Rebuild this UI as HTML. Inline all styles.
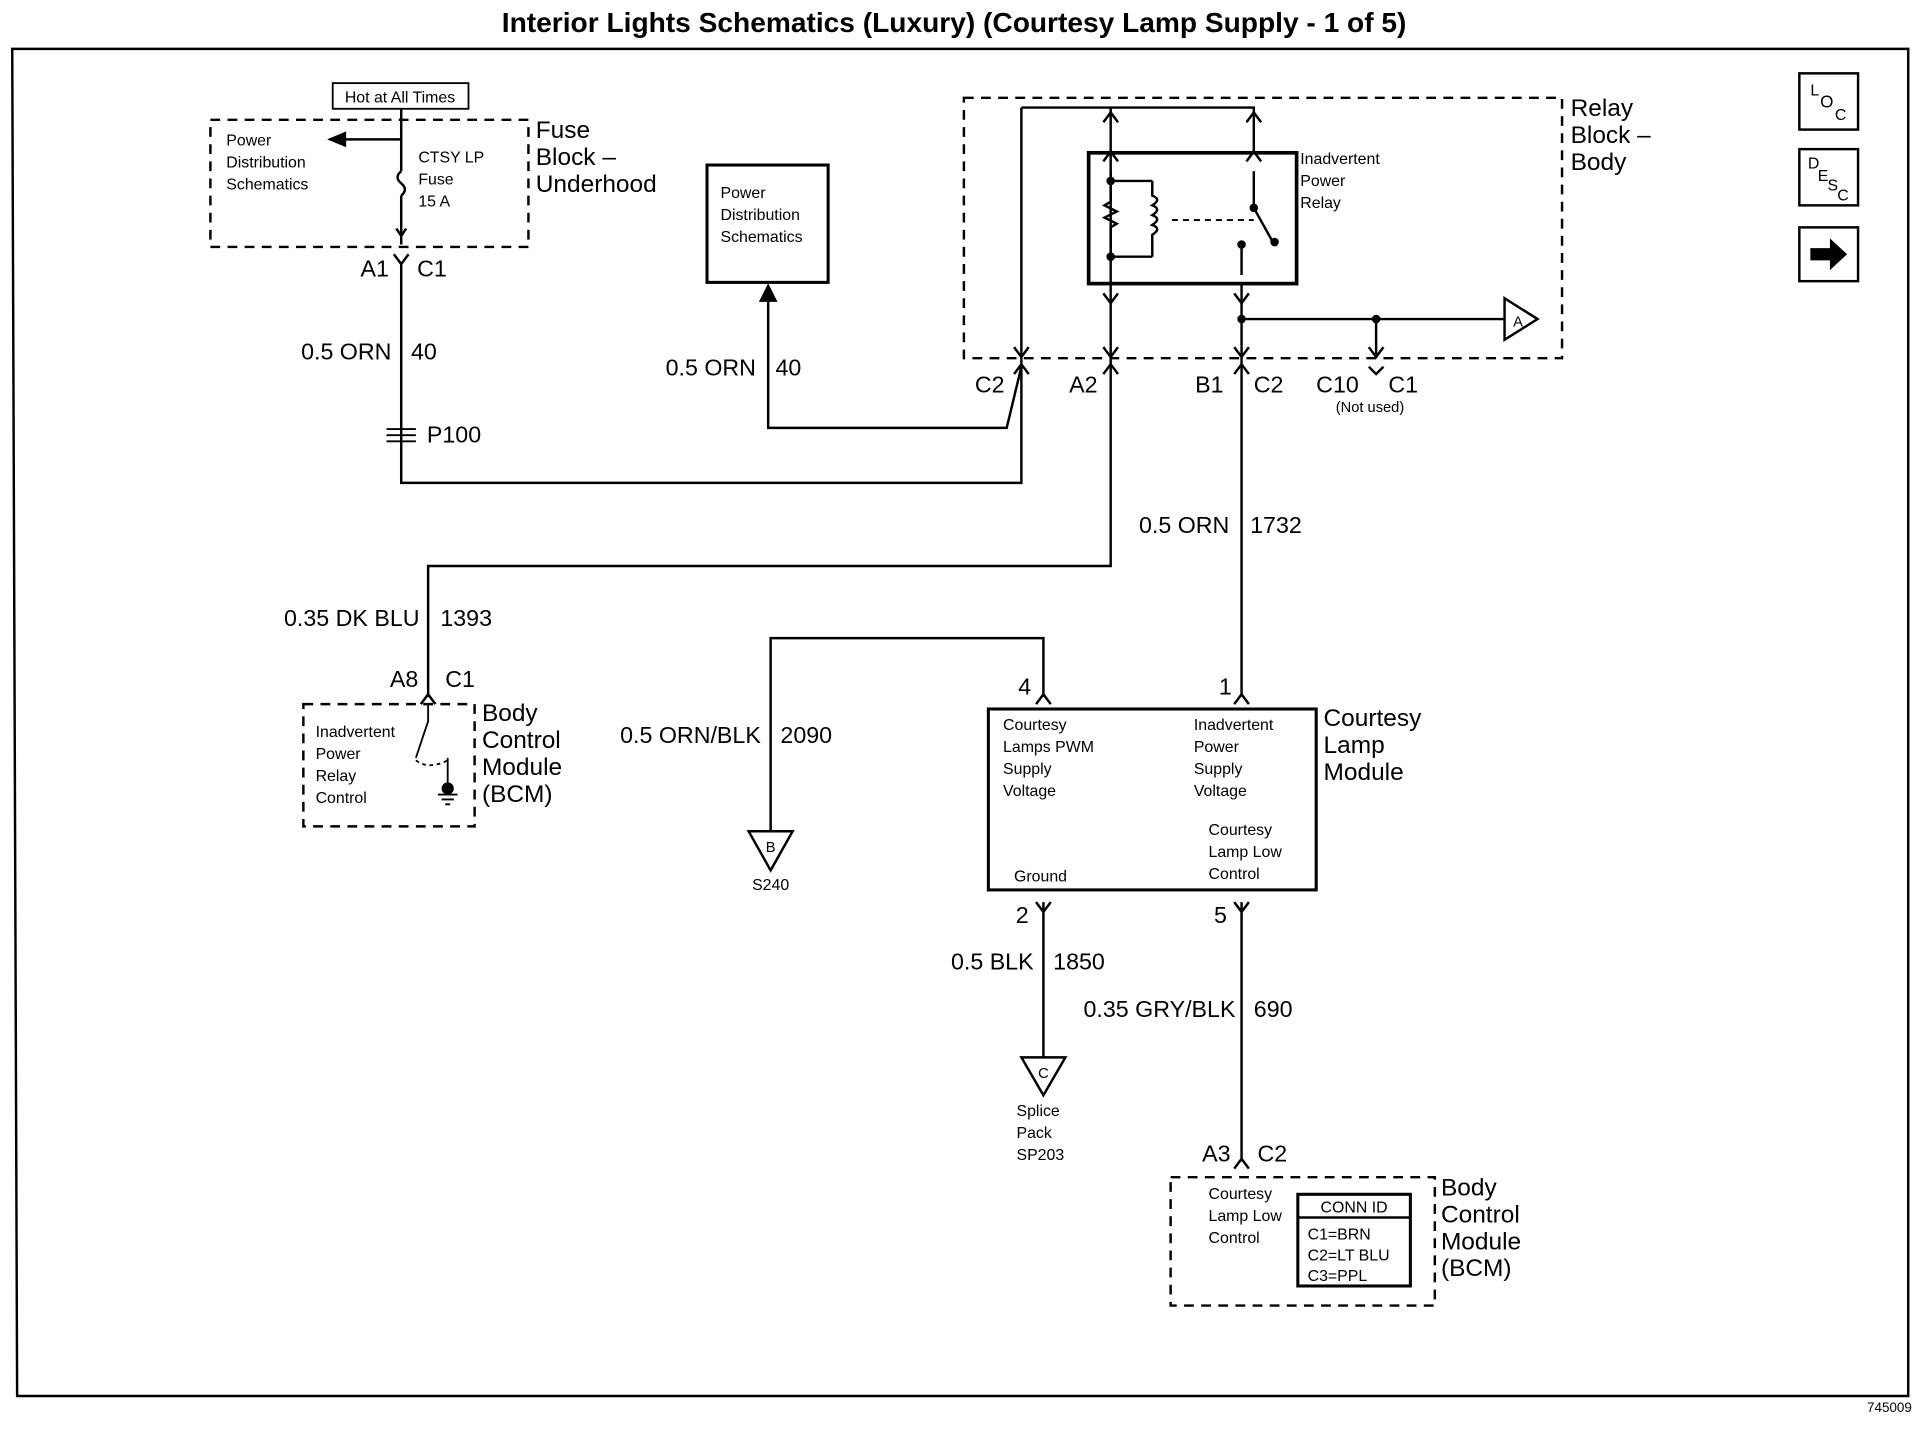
<!DOCTYPE html>
<html><head><meta charset="utf-8"><style>
html,body{margin:0;padding:0;background:#fff}
svg{display:block}
text{font-family:"Liberation Sans",Arial,sans-serif;fill:#000}
.s{font-size:13px}
.m{font-size:19px}
.l{font-size:20px}
</style></head><body>
<svg width="1918" height="1440" viewBox="0 0 1568 1178" preserveAspectRatio="none" xmlns="http://www.w3.org/2000/svg">
<g stroke="#000" fill="none" stroke-width="2">
<!-- border -->
<path d="M10 40 H1560 V1142 H14 Z"/>
<!-- fuse block -->
<rect x="172" y="98" width="260" height="104" stroke-dasharray="8,6"/>
<rect x="272" y="68" width="111" height="21" stroke-width="1.5"/>
<path d="M328 89 V140 M328 160 V200"/>
<path d="M328 140 q-6 5 0 10 q6 5 0 10"/>
<path d="M328 114 H280"/>
<path d="M270 114 l12 -5 v10 z" fill="#000"/>
<path d="M328 193 l-4 -6 M328 193 l4 -6"/>
<!-- A1 C1 connector -->
<path d="M322 208 l6 8 l6 -8 M328 216 V395 H835 V300"/>
<!-- P100 -->
<path d="M316 351 H340 M316 356 H340 M316 361 H340" stroke-width="1.5"/>
<!-- Power dist box -->
<rect x="578" y="135" width="99" height="96" stroke-width="2.5"/>
<path d="M628 240 V350 H823 L835 300"/>
<path d="M628 234 l-6 12 h12 z" fill="#000"/>
<!-- relay block -->
<rect x="788" y="80" width="489" height="213" stroke-dasharray="8,6"/>
<rect x="890" y="125" width="170" height="107" stroke-width="3"/>
<path d="M835 88 H1025 V125 M835 88 V300 M908 88 V300 M1015 232 V300"/>
<path d="M829 284 l6 8 l6 -8 M902 284 l6 8 l6 -8 M1009 284 l6 8 l6 -8"/>
<path d="M902 132 l6 -8 l6 8 M902 240 l6 8 l6 -8 M1019 132 l6 -8 l6 8 M1009 240 l6 8 l6 -8 M902 100 l6 -8 l6 8 M1019 100 l6 -8 l6 8"/>
<!-- relay internals -->
<path d="M908 140 V165 l-5 3 l10 5 l-10 5 l10 5 l-5 3 V212"/>
<path d="M908 148 H942 M908 210 H942 M942 148 V160 q8 3 0 8 q8 3 0 8 q8 3 0 8 q8 3 0 8 V210"/>
<path d="M1025 140 V170 L1040 197 M1015 200 V225" />
<path d="M958 180 H1025" stroke-dasharray="5,4" stroke-width="1.5"/>
<circle cx="1025" cy="170" r="2.5" fill="#000"/><circle cx="1042" cy="198" r="2.5" fill="#000"/><circle cx="1015" cy="200" r="2.5" fill="#000"/>
<circle cx="908" cy="148" r="2.5" fill="#000"/><circle cx="908" cy="210" r="2.5" fill="#000"/>
<path d="M1015 261 H1230 M1125 261 V290"/>
<circle cx="1015" cy="261" r="2.5" fill="#000"/><circle cx="1125" cy="261" r="2.5" fill="#000"/>
<path d="M1230 244 L1257 261 L1230 278 Z"/>
<path d="M1119 284 l6 8 l6 -8 M1119 300 l6 6 l6 -6"/>
<path d="M829 306 l6 -8 l6 8 M902 306 l6 -8 l6 8 M1009 306 l6 -8 l6 8"/>
<!-- A2 wire -->
<path d="M908 300 V463 H350 V570"/>
<path d="M344 576 l6 -8 l6 8"/>
<!-- B1 wire -->
<path d="M1015 300 V570 M1009 576 l6 -8 l6 8"/>
<!-- BCM left -->
<rect x="248" y="576" width="140" height="100" stroke-dasharray="8,6"/>
<path d="M350 576 V590 L340 620 M366 620 V648" stroke-width="1.5"/>
<path d="M340 622 q10 8 26 0" stroke-dasharray="3,3" stroke-width="1.5"/>
<path d="M358 650 H374 M361 654 H371 M364 658 H368" stroke-width="1.5"/>
<circle cx="366" cy="645" r="4" fill="#000"/>
<!-- Courtesy lamp module -->
<rect x="808" y="580" width="268" height="148" stroke-width="2.5"/>
<path d="M847 576 l6 -8 l6 8 M853 570 V522 H630 V680"/>
<path d="M612 680 H648 L630 712 Z"/>
<path d="M847 738 l6 8 l6 -8 M853 738 V865 M1009 738 l6 8 l6 -8 M1015 738 V950"/>
<path d="M835 865 H871 L853 896 Z"/>
<path d="M1009 956 l6 -8 l6 8"/>
<!-- BCM bottom -->
<rect x="957" y="963" width="216" height="105" stroke-dasharray="8,6"/>
<rect x="1061" y="977" width="92" height="75" stroke-width="2.5"/>
<path d="M1061 996 H1153" stroke-width="2"/>
<!-- icons -->
<rect x="1471" y="60" width="48" height="46"/>
<rect x="1471" y="122" width="48" height="46"/>
<rect x="1471" y="186" width="48" height="44"/>
</g>
<path d="M1480 203 h16 v-8 l14 13 l-14 13 v-8 h-16 z" fill="#000"/>
<text x="780" y="26" text-anchor="middle" style="font-size:23px;font-weight:bold">Interior Lights Schematics (Luxury) (Courtesy Lamp Supply - 1 of 5)</text>
<text x="327" y="84" text-anchor="middle" class="s">Hot at All Times</text>
<text class="s" x="185" y="119">Power</text><text class="s" x="185" y="137">Distribution</text><text class="s" x="185" y="155">Schematics</text>
<text class="s" x="342" y="133">CTSY LP</text><text class="s" x="342" y="151">Fuse</text><text class="s" x="342" y="169">15 A</text>
<text class="l" x="438" y="113">Fuse</text><text class="l" x="438" y="135">Block –</text><text class="l" x="438" y="157">Underhood</text>
<text class="m" x="318" y="226" text-anchor="end">A1</text><text class="m" x="341" y="226">C1</text>
<text class="m" x="320" y="294" text-anchor="end">0.5 ORN</text><text class="m" x="336" y="294">40</text>
<text class="m" x="349" y="362">P100</text>
<text class="s" x="589" y="162">Power</text><text class="s" x="589" y="180">Distribution</text><text class="s" x="589" y="198">Schematics</text>
<text class="m" x="618" y="307" text-anchor="end">0.5 ORN</text><text class="m" x="634" y="307">40</text>
<text class="s" x="1063" y="134">Inadvertent</text><text class="s" x="1063" y="152">Power</text><text class="s" x="1063" y="170">Relay</text>
<text class="l" x="1284" y="95">Relay</text><text class="l" x="1284" y="117">Block –</text><text class="l" x="1284" y="139">Body</text>
<text x="1237" y="267" style="font-size:12px">A</text>
<text class="m" x="797" y="321">C2</text><text class="m" x="874" y="321">A2</text><text class="m" x="977" y="321">B1</text><text class="m" x="1025" y="321">C2</text>
<text class="m" x="1076" y="321">C10</text><text class="m" x="1135" y="321">C1</text>
<text x="1120" y="337" text-anchor="middle" style="font-size:12px">(Not used)</text>
<text class="m" x="1005" y="436" text-anchor="end">0.5 ORN</text><text class="m" x="1022" y="436">1732</text>
<text class="m" x="343" y="512" text-anchor="end">0.35 DK BLU</text><text class="m" x="360" y="512">1393</text>
<text class="m" x="342" y="562" text-anchor="end">A8</text><text class="m" x="364" y="562">C1</text>
<text class="s" x="258" y="603">Inadvertent</text><text class="s" x="258" y="621">Power</text><text class="s" x="258" y="639">Relay</text><text class="s" x="258" y="657">Control</text>
<text class="l" x="394" y="590">Body</text><text class="l" x="394" y="612">Control</text><text class="l" x="394" y="634">Module</text><text class="l" x="394" y="656">(BCM)</text>
<text class="m" x="622" y="608" text-anchor="end">0.5 ORN/BLK</text><text class="m" x="638" y="608">2090</text>
<text x="630" y="697" text-anchor="middle" style="font-size:12px">B</text>
<text class="s" x="630" y="728" text-anchor="middle">S240</text>
<text class="m" x="843" y="568" text-anchor="end">4</text><text class="m" x="1007" y="568" text-anchor="end">1</text>
<text class="s" x="820" y="597">Courtesy</text><text class="s" x="820" y="615">Lamps PWM</text><text class="s" x="820" y="633">Supply</text><text class="s" x="820" y="651">Voltage</text>
<text class="s" x="976" y="597">Inadvertent</text><text class="s" x="976" y="615">Power</text><text class="s" x="976" y="633">Supply</text><text class="s" x="976" y="651">Voltage</text>
<text class="s" x="988" y="683">Courtesy</text><text class="s" x="988" y="701">Lamp Low</text><text class="s" x="988" y="719">Control</text>
<text class="s" x="829" y="721">Ground</text>
<text class="l" x="1082" y="594">Courtesy</text><text class="l" x="1082" y="616">Lamp</text><text class="l" x="1082" y="638">Module</text>
<text class="m" x="841" y="755" text-anchor="end">2</text><text class="m" x="1003" y="755" text-anchor="end">5</text>
<text class="m" x="845" y="793" text-anchor="end">0.5 BLK</text><text class="m" x="861" y="793">1850</text>
<text class="m" x="1010" y="832" text-anchor="end">0.35 GRY/BLK</text><text class="m" x="1025" y="832">690</text>
<text x="853" y="882" text-anchor="middle" style="font-size:12px">C</text>
<text class="s" x="831" y="913">Splice</text><text class="s" x="831" y="931">Pack</text><text class="s" x="831" y="949">SP203</text>
<text class="m" x="1006" y="950" text-anchor="end">A3</text><text class="m" x="1028" y="950">C2</text>
<text class="s" x="988" y="981">Courtesy</text><text class="s" x="988" y="999">Lamp Low</text><text class="s" x="988" y="1017">Control</text>
<text class="s" x="1107" y="992" text-anchor="middle">CONN ID</text>
<text class="s" x="1069" y="1014">C1=BRN</text><text class="s" x="1069" y="1031">C2=LT BLU</text><text class="s" x="1069" y="1048">C3=PPL</text>
<text class="l" x="1178" y="978">Body</text><text class="l" x="1178" y="1000">Control</text><text class="l" x="1178" y="1022">Module</text><text class="l" x="1178" y="1044">(BCM)</text>
<text x="1480" y="78" style="font-size:13px">L</text><text x="1488" y="88" style="font-size:14px">O</text><text x="1500" y="98" style="font-size:13px">C</text>
<text x="1478" y="138" style="font-size:13px">D</text><text x="1486" y="148" style="font-size:13px">E</text><text x="1494" y="156" style="font-size:13px">S</text><text x="1502" y="164" style="font-size:13px">C</text>
<text x="1563" y="1155" text-anchor="end" style="font-size:11px">745009</text>
</svg>
</body></html>
